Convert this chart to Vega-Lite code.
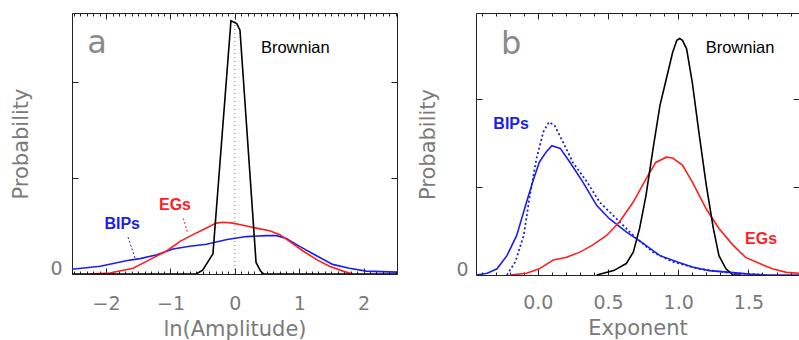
{
  "$schema": "https://vega.github.io/schema/vega-lite/v6.json",
  "padding": {"left": 10, "top": 12, "right": 0, "bottom": 0},
  "bounds": "flush",
  "spacing": 79,
  "config": {
    "view": {"stroke": "#222", "strokeWidth": 1},
    "axis": {"domain": false, "grid": false, "labelFont": "DejaVu Sans", "labelFontSize": 19, "labelColor": "#7a7a7a", "titleFont": "DejaVu Sans", "titleFontSize": 21, "titleFontWeight": "normal", "titleColor": "#7a7a7a", "tickColor": "#222", "tickWidth": 1, "labelOverlap": false, "labelFlush": false},
    "text": {"font": "Liberation Sans"}
  },
  "datasets": {
    "a": [
      {"s": "BIPs", "x": -2.53, "y": 0.05}, {"s": "BIPs", "x": -2.09, "y": 0.08}, {"s": "BIPs", "x": -1.67, "y": 0.14}, {"s": "BIPs", "x": -1.47, "y": 0.16}, {"s": "BIPs", "x": -1.21, "y": 0.2}, {"s": "BIPs", "x": -0.96, "y": 0.26}, {"s": "BIPs", "x": -0.7, "y": 0.29}, {"s": "BIPs", "x": -0.44, "y": 0.31}, {"s": "BIPs", "x": -0.12, "y": 0.36}, {"s": "BIPs", "x": 0.18, "y": 0.39}, {"s": "BIPs", "x": 0.49, "y": 0.4}, {"s": "BIPs", "x": 0.65, "y": 0.4}, {"s": "BIPs", "x": 0.8, "y": 0.37}, {"s": "BIPs", "x": 1.0, "y": 0.29}, {"s": "BIPs", "x": 1.27, "y": 0.19}, {"s": "BIPs", "x": 1.52, "y": 0.1}, {"s": "BIPs", "x": 1.78, "y": 0.06}, {"s": "BIPs", "x": 2.04, "y": 0.03}, {"s": "BIPs", "x": 2.52, "y": 0.02},
      {"s": "EGs", "x": -2.25, "y": 0}, {"s": "EGs", "x": -1.94, "y": 0.01}, {"s": "EGs", "x": -1.58, "y": 0.06}, {"s": "EGs", "x": -1.32, "y": 0.15}, {"s": "EGs", "x": -1.06, "y": 0.24}, {"s": "EGs", "x": -0.85, "y": 0.34}, {"s": "EGs", "x": -0.65, "y": 0.41}, {"s": "EGs", "x": -0.44, "y": 0.48}, {"s": "EGs", "x": -0.29, "y": 0.53}, {"s": "EGs", "x": -0.18, "y": 0.54}, {"s": "EGs", "x": -0.03, "y": 0.53}, {"s": "EGs", "x": 0.18, "y": 0.5}, {"s": "EGs", "x": 0.39, "y": 0.47}, {"s": "EGs", "x": 0.54, "y": 0.45}, {"s": "EGs", "x": 0.7, "y": 0.41}, {"s": "EGs", "x": 0.85, "y": 0.34}, {"s": "EGs", "x": 1.06, "y": 0.24}, {"s": "EGs", "x": 1.27, "y": 0.15}, {"s": "EGs", "x": 1.47, "y": 0.08}, {"s": "EGs", "x": 1.68, "y": 0.03}, {"s": "EGs", "x": 1.83, "y": 0},
      {"s": "Brownian", "x": -2.53, "y": 0}, {"s": "Brownian", "x": -0.6, "y": 0}, {"s": "Brownian", "x": -0.5, "y": 0.04}, {"s": "Brownian", "x": -0.34, "y": 0.21}, {"s": "Brownian", "x": -0.06, "y": 2.64}, {"s": "Brownian", "x": 0.03, "y": 2.61}, {"s": "Brownian", "x": 0.08, "y": 2.54}, {"s": "Brownian", "x": 0.33, "y": 0.12}, {"s": "Brownian", "x": 0.4, "y": 0.03}, {"s": "Brownian", "x": 0.45, "y": 0}, {"s": "Brownian", "x": 2.52, "y": 0}
    ],
    "a_lead": [
      {"s": "BIPs", "x": -1.66, "y": 0.385}, {"s": "BIPs", "x": -1.55, "y": 0.167},
      {"s": "EGs", "x": -0.8, "y": 0.58}, {"s": "EGs", "x": -0.73, "y": 0.42}
    ],
    "a_lab": [
      {"s": "panel", "t": "a", "x": -2.14, "y": 2.41},
      {"s": "Brownian", "t": "Brownian", "x": 0.94, "y": 2.36},
      {"s": "EGs", "t": "EGs", "x": -0.93, "y": 0.72},
      {"s": "BIPs", "t": "BIPs", "x": -1.75, "y": 0.52}
    ],
    "a_zero": [{"x": 0}],
    "b": [
      {"s": "BIPs", "x": -0.44, "y": 0}, {"s": "BIPs", "x": -0.36, "y": 0.02}, {"s": "BIPs", "x": -0.29, "y": 0.07}, {"s": "BIPs", "x": -0.22, "y": 0.22}, {"s": "BIPs", "x": -0.15, "y": 0.45}, {"s": "BIPs", "x": -0.08, "y": 0.83}, {"s": "BIPs", "x": -0.03, "y": 1.09}, {"s": "BIPs", "x": 0.01, "y": 1.28}, {"s": "BIPs", "x": 0.06, "y": 1.4}, {"s": "BIPs", "x": 0.1, "y": 1.47}, {"s": "BIPs", "x": 0.16, "y": 1.44}, {"s": "BIPs", "x": 0.23, "y": 1.28}, {"s": "BIPs", "x": 0.32, "y": 1.06}, {"s": "BIPs", "x": 0.42, "y": 0.79}, {"s": "BIPs", "x": 0.51, "y": 0.64}, {"s": "BIPs", "x": 0.63, "y": 0.49}, {"s": "BIPs", "x": 0.75, "y": 0.36}, {"s": "BIPs", "x": 0.87, "y": 0.22}, {"s": "BIPs", "x": 0.99, "y": 0.15}, {"s": "BIPs", "x": 1.1, "y": 0.09}, {"s": "BIPs", "x": 1.22, "y": 0.05}, {"s": "BIPs", "x": 1.37, "y": 0.03}, {"s": "BIPs", "x": 1.51, "y": 0.01}, {"s": "BIPs", "x": 1.63, "y": 0}, {"s": "BIPs", "x": 1.86, "y": 0},
      {"s": "EGs", "x": -0.2, "y": 0}, {"s": "EGs", "x": -0.08, "y": 0.02}, {"s": "EGs", "x": 0.01, "y": 0.07}, {"s": "EGs", "x": 0.11, "y": 0.17}, {"s": "EGs", "x": 0.2, "y": 0.2}, {"s": "EGs", "x": 0.3, "y": 0.26}, {"s": "EGs", "x": 0.39, "y": 0.34}, {"s": "EGs", "x": 0.49, "y": 0.45}, {"s": "EGs", "x": 0.58, "y": 0.6}, {"s": "EGs", "x": 0.68, "y": 0.83}, {"s": "EGs", "x": 0.77, "y": 1.09}, {"s": "EGs", "x": 0.84, "y": 1.28}, {"s": "EGs", "x": 0.915, "y": 1.34}, {"s": "EGs", "x": 0.96, "y": 1.33}, {"s": "EGs", "x": 1.03, "y": 1.25}, {"s": "EGs", "x": 1.1, "y": 1.06}, {"s": "EGs", "x": 1.2, "y": 0.75}, {"s": "EGs", "x": 1.29, "y": 0.53}, {"s": "EGs", "x": 1.39, "y": 0.34}, {"s": "EGs", "x": 1.48, "y": 0.2}, {"s": "EGs", "x": 1.58, "y": 0.13}, {"s": "EGs", "x": 1.67, "y": 0.07}, {"s": "EGs", "x": 1.77, "y": 0.03}, {"s": "EGs", "x": 1.86, "y": 0.02},
      {"s": "Brownian", "x": 0.42, "y": 0}, {"s": "Brownian", "x": 0.54, "y": 0.05}, {"s": "Brownian", "x": 0.63, "y": 0.13}, {"s": "Brownian", "x": 0.68, "y": 0.26}, {"s": "Brownian", "x": 0.725, "y": 0.53}, {"s": "Brownian", "x": 0.77, "y": 0.9}, {"s": "Brownian", "x": 0.82, "y": 1.43}, {"s": "Brownian", "x": 0.87, "y": 1.93}, {"s": "Brownian", "x": 0.915, "y": 2.23}, {"s": "Brownian", "x": 0.96, "y": 2.53}, {"s": "Brownian", "x": 0.99, "y": 2.67}, {"s": "Brownian", "x": 1.01, "y": 2.69}, {"s": "Brownian", "x": 1.03, "y": 2.67}, {"s": "Brownian", "x": 1.06, "y": 2.57}, {"s": "Brownian", "x": 1.1, "y": 2.19}, {"s": "Brownian", "x": 1.15, "y": 1.59}, {"s": "Brownian", "x": 1.2, "y": 1.02}, {"s": "Brownian", "x": 1.25, "y": 0.53}, {"s": "Brownian", "x": 1.29, "y": 0.22}, {"s": "Brownian", "x": 1.34, "y": 0.07}, {"s": "Brownian", "x": 1.39, "y": 0}, {"s": "Brownian", "x": 1.45, "y": 0}
    ],
    "b_dot": [
      {"x": -0.22, "y": 0}, {"x": -0.16, "y": 0.15}, {"x": -0.1, "y": 0.45}, {"x": -0.06, "y": 0.87}, {"x": -0.01, "y": 1.32}, {"x": 0.04, "y": 1.63}, {"x": 0.08, "y": 1.74}, {"x": 0.12, "y": 1.7}, {"x": 0.18, "y": 1.51}, {"x": 0.25, "y": 1.28}, {"x": 0.35, "y": 1.06}, {"x": 0.44, "y": 0.83}, {"x": 0.56, "y": 0.64}, {"x": 0.68, "y": 0.45}, {"x": 0.82, "y": 0.26}, {"x": 0.96, "y": 0.15}, {"x": 1.15, "y": 0.07}, {"x": 1.39, "y": 0.02}, {"x": 1.63, "y": 0}
    ],
    "b_lab": [
      {"s": "panel", "t": "b", "x": -0.19, "y": 2.63},
      {"s": "Brownian", "t": "Brownian", "x": 1.44, "y": 2.58},
      {"s": "EGs", "t": "EGs", "x": 1.59, "y": 0.41},
      {"s": "BIPs", "t": "BIPs", "x": -0.19, "y": 1.72}
    ]
  },
  "hconcat": [
    {
      "width": 325,
      "height": 261,
      "layer": [
        {
          "data": {"name": "a"},
          "mark": {"type": "line", "strokeWidth": 1.6, "clip": true},
          "encoding": {
            "x": {"field": "x", "type": "quantitative", "scale": {"domain": [-2.53, 2.52], "nice": false, "zero": false},
              "axis": {"orient": "bottom", "title": "ln(Amplitude)", "format": ".0f",
                "values": [-2.5,-2.4,-2.3,-2.2,-2.1,-2,-1.9,-1.8,-1.7,-1.6,-1.5,-1.4,-1.3,-1.2,-1.1,-1,-0.9,-0.8,-0.7,-0.6,-0.5,-0.4,-0.3,-0.2,-0.1,0,0.1,0.2,0.3,0.4,0.5,0.6,0.7,0.8,0.9,1,1.1,1.2,1.3,1.4,1.5,1.6,1.7,1.8,1.9,2,2.1,2.2,2.3,2.4,2.5],
                "tickSize": {"condition": {"test": "abs(datum.value - round(datum.value)) < 0.001", "value": -6}, "value": -3},
                "labelExpr": "abs(datum.value - round(datum.value)) < 0.001 ? datum.label : ''",
                "labelPadding": 26, "titlePadding": 2}},
            "y": {"field": "y", "type": "quantitative", "scale": {"domain": [0, 2.72], "nice": false},
              "axis": {"orient": "left", "title": "Probability", "values": [0, 1, 2], "tickSize": -6,
                "labelExpr": "datum.value == 0 ? '0' : ''", "labelBaseline": "alphabetic", "labelPadding": 16, "titlePadding": 18}},
            "color": {"field": "s", "type": "nominal", "scale": {"domain": ["Brownian", "EGs", "BIPs"], "range": ["#000000", "#ff1e1e", "#1e1eea"]}, "legend": null}
          }
        },
        {
          "data": {"name": "a_zero"},
          "mark": {"type": "rule", "strokeDash": [1, 3], "color": "#777", "strokeWidth": 1},
          "encoding": {
            "x": {"field": "x", "type": "quantitative",
              "axis": {"orient": "top", "title": null, "labels": false,
                "values": [-2.5,-2.4,-2.3,-2.2,-2.1,-2,-1.9,-1.8,-1.7,-1.6,-1.5,-1.4,-1.3,-1.2,-1.1,-1,-0.9,-0.8,-0.7,-0.6,-0.5,-0.4,-0.3,-0.2,-0.1,0,0.1,0.2,0.3,0.4,0.5,0.6,0.7,0.8,0.9,1,1.1,1.2,1.3,1.4,1.5,1.6,1.7,1.8,1.9,2,2.1,2.2,2.3,2.4,2.5],
                "tickSize": {"condition": {"test": "abs(datum.value - round(datum.value)) < 0.001", "value": -6}, "value": -3}}}
          }
        },
        {
          "data": {"name": "a_lead"},
          "mark": {"type": "line", "strokeDash": [2, 2], "strokeWidth": 1},
          "encoding": {
            "x": {"field": "x", "type": "quantitative", "axis": null},
            "y": {"field": "y", "type": "quantitative", "axis": null},
            "color": {"field": "s", "type": "nominal", "legend": null}
          }
        },
        {
          "data": {"name": "a_lab"},
          "transform": [{"filter": "datum.s == 'EGs' || datum.s == 'BIPs'"}],
          "mark": {"type": "text", "fontSize": 16, "fontWeight": "bold"},
          "encoding": {
            "x": {"field": "x", "type": "quantitative", "axis": null},
            "y": {"field": "y", "type": "quantitative", "axis": {"orient": "right", "title": null, "labels": false, "values": [1, 2], "tickSize": -6}},
            "text": {"field": "t"},
            "color": {"field": "s", "type": "nominal", "legend": null}
          }
        },
        {
          "data": {"name": "a_lab"},
          "transform": [{"filter": "datum.s == 'Brownian'"}],
          "mark": {"type": "text", "fontSize": 16.5, "color": "#000"},
          "encoding": {
            "x": {"field": "x", "type": "quantitative", "axis": null},
            "y": {"field": "y", "type": "quantitative", "axis": null},
            "text": {"field": "t"}
          }
        },
        {
          "data": {"name": "a_lab"},
          "transform": [{"filter": "datum.s == 'panel'"}],
          "mark": {"type": "text", "fontSize": 32, "color": "#8a8a8a", "font": "DejaVu Sans"},
          "encoding": {
            "x": {"field": "x", "type": "quantitative", "axis": null},
            "y": {"field": "y", "type": "quantitative", "axis": null},
            "text": {"field": "t"}
          }
        }
      ]
    },
    {
      "width": 323,
      "height": 262,
      "layer": [
        {
          "data": {"name": "b"},
          "mark": {"type": "line", "strokeWidth": 1.6, "clip": true},
          "encoding": {
            "x": {"field": "x", "type": "quantitative", "scale": {"domain": [-0.44, 1.86], "nice": false, "zero": false},
              "axis": {"orient": "bottom", "title": "Exponent", "format": ".1f",
                "values": [-0.4,-0.3,-0.2,-0.1,0,0.1,0.2,0.3,0.4,0.5,0.6,0.7,0.8,0.9,1,1.1,1.2,1.3,1.4,1.5,1.6,1.7,1.8],
                "tickSize": {"condition": {"test": "abs(datum.value*2 - round(datum.value*2)) < 0.001", "value": -6}, "value": -3},
                "labelExpr": "abs(datum.value*2 - round(datum.value*2)) < 0.001 && datum.value >= 0 ? datum.label : ''",
                "labelPadding": 24, "titlePadding": 2}},
            "y": {"field": "y", "type": "quantitative", "scale": {"domain": [0, 2.98], "nice": false},
              "axis": {"orient": "left", "title": "Probability", "values": [0, 1, 2], "tickSize": -6,
                "labelExpr": "datum.value == 0 ? '0' : ''", "labelBaseline": "alphabetic", "labelPadding": 14, "titlePadding": 17}},
            "color": {"field": "s", "type": "nominal", "scale": {"domain": ["Brownian", "EGs", "BIPs"], "range": ["#000000", "#ff1e1e", "#1e1eea"]}, "legend": null}
          }
        },
        {
          "data": {"name": "b_dot"},
          "mark": {"type": "line", "strokeDash": [2, 2.5], "strokeWidth": 1.8, "color": "#1e1eea", "clip": true},
          "encoding": {
            "x": {"field": "x", "type": "quantitative",
              "axis": {"orient": "top", "title": null, "labels": false,
                "values": [-0.4,-0.3,-0.2,-0.1,0,0.1,0.2,0.3,0.4,0.5,0.6,0.7,0.8,0.9,1,1.1,1.2,1.3,1.4,1.5,1.6,1.7,1.8],
                "tickSize": {"condition": {"test": "abs(datum.value*2 - round(datum.value*2)) < 0.001", "value": -6}, "value": -3}}},
            "y": {"field": "y", "type": "quantitative", "axis": null}
          }
        },
        {
          "data": {"name": "b_lab"},
          "transform": [{"filter": "datum.s == 'EGs' || datum.s == 'BIPs'"}],
          "mark": {"type": "text", "fontSize": 16, "fontWeight": "bold"},
          "encoding": {
            "x": {"field": "x", "type": "quantitative", "axis": null},
            "y": {"field": "y", "type": "quantitative", "axis": {"orient": "right", "title": null, "labels": false, "values": [1, 2], "tickSize": -6}},
            "text": {"field": "t"},
            "color": {"field": "s", "type": "nominal", "legend": null}
          }
        },
        {
          "data": {"name": "b_lab"},
          "transform": [{"filter": "datum.s == 'Brownian'"}],
          "mark": {"type": "text", "fontSize": 16.5, "color": "#000"},
          "encoding": {
            "x": {"field": "x", "type": "quantitative", "axis": null},
            "y": {"field": "y", "type": "quantitative", "axis": null},
            "text": {"field": "t"}
          }
        },
        {
          "data": {"name": "b_lab"},
          "transform": [{"filter": "datum.s == 'panel'"}],
          "mark": {"type": "text", "fontSize": 32, "color": "#8a8a8a", "font": "DejaVu Sans"},
          "encoding": {
            "x": {"field": "x", "type": "quantitative", "axis": null},
            "y": {"field": "y", "type": "quantitative", "axis": null},
            "text": {"field": "t"}
          }
        }
      ]
    }
  ]
}
